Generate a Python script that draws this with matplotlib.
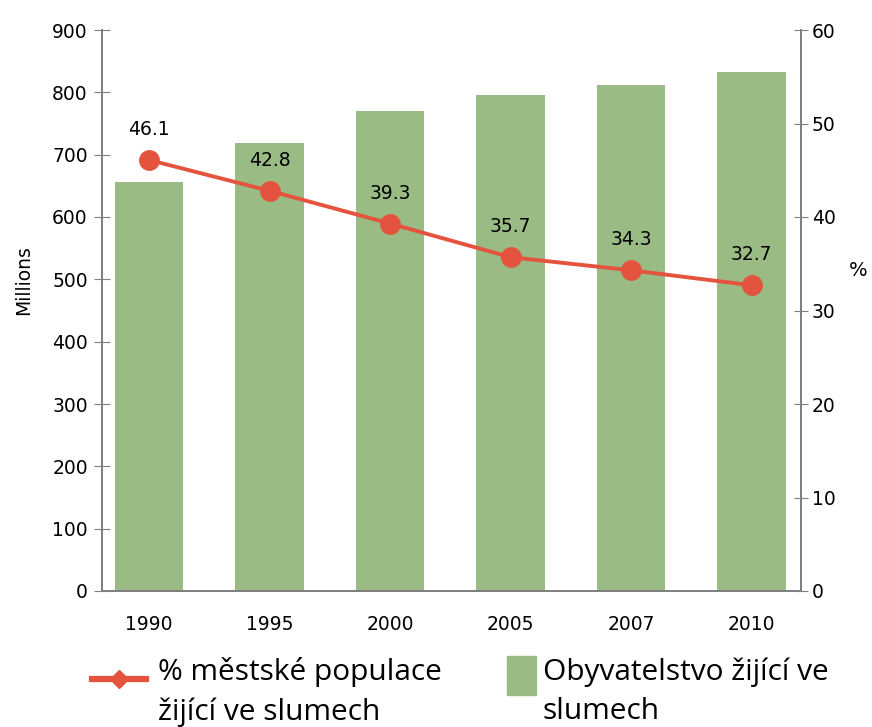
import matplotlib
matplotlib.use("Agg")
import matplotlib.pyplot as plt
from matplotlib.lines import Line2D
from matplotlib.patches import Rectangle

YEARS = ["1990", "1995", "2000", "2005", "2007", "2010"]
SLUM_MILLIONS = [656, 718, 770, 796, 811, 833]
SLUM_PERCENT = [46.1, 42.8, 39.3, 35.7, 34.3, 32.7]
LEGEND_LABELS = ["% městské populace\nžijící ve slumech",
                 "Obyvatelstvo žijící ve\nslumech"]

BAR_COLOR = "#9BBB85"
LINE_COLOR = "#E4533D"
AXIS_COLOR = "#7F7F7F"
W, H = 872, 727

plt.rcParams["font.family"] = ["DejaVu Sans"]

fig = plt.figure(figsize=(W / 100, H / 100), dpi=100)
ax = fig.add_axes([102 / W, 1 - 591 / H, 699 / W, 561 / H])
ax2 = ax.twinx()

x = list(range(len(YEARS)))
ax.bar(x, SLUM_MILLIONS, width=0.57, color=BAR_COLOR, zorder=1)
ax.set_xlim(-0.39, 5.41)
ax.set_ylim(0, 900)
ax.set_yticks(range(0, 901, 100))
ax.set_xticks(x)
ax.set_xticklabels(YEARS, fontsize=13.5)
ax.tick_params(axis="x", length=0, pad=17)
ax.tick_params(axis="y", direction="inout", length=11.5, color=AXIS_COLOR,
               labelsize=13.5, pad=4.5)
ax.set_ylabel("Millions", fontsize=13.5)
ax.yaxis.set_label_coords(-0.098, 0.554)

ax2.plot(x, SLUM_PERCENT, color=LINE_COLOR, lw=2.8, marker="o",
         markersize=14, zorder=3)
for xi, p in zip(x, SLUM_PERCENT):
    ax2.annotate(f"{p}", (xi, p), xytext=(0, 15), textcoords="offset points",
                 ha="center", va="bottom", fontsize=13.5)
ax2.set_ylim(0, 60)
ax2.set_yticks(range(0, 61, 10))
ax2.tick_params(axis="y", direction="inout", length=10.5, color=AXIS_COLOR,
                labelsize=13.5, pad=2.5)
ax2.set_ylabel("%", fontsize=14, rotation=0, va="center", ha="center")
ax2.yaxis.set_label_coords(1.0815, 0.572)

for a in (ax, ax2):
    a.spines["top"].set_visible(False)
    for s in ("left", "right", "bottom"):
        a.spines[s].set_color(AXIS_COLOR)
        a.spines[s].set_linewidth(1.3)

# legend, drawn by hand to match the original placement
legend_font = dict(family="Open Sans", size=21.5, linespacing=1.45,
                   va="center", ha="left")
fig.add_artist(Line2D([92 / W, 119 / W, 146 / W], [1 - 679 / H] * 3,
                      transform=fig.transFigure, color=LINE_COLOR, lw=4.5,
                      marker="D", markersize=9, markevery=[1]))
fig.text(158 / W, 1 - 692 / H, LEGEND_LABELS[0], **legend_font)
fig.add_artist(Rectangle((507 / W, 1 - 695 / H), 29 / W, 39 / H,
                         transform=fig.transFigure, color=BAR_COLOR))
fig.text(543 / W, 1 - 692 / H, LEGEND_LABELS[1], **legend_font)

fig.savefig("out.png", dpi=100)
